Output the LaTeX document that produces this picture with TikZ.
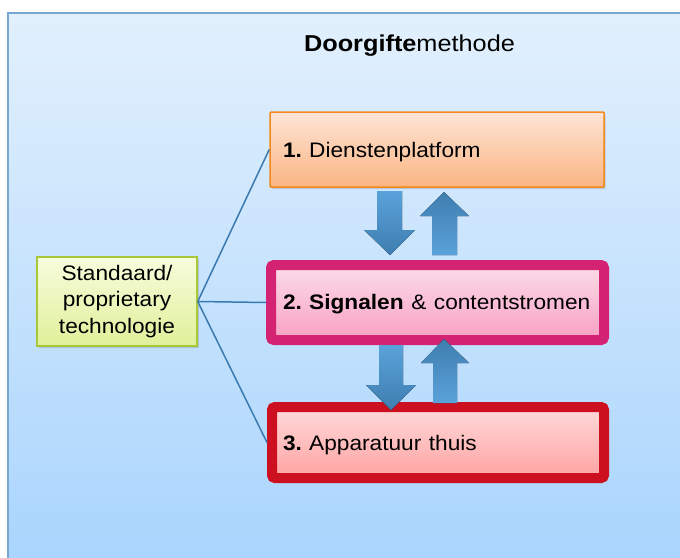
\documentclass[tikz,border=0pt]{standalone}
\usepackage{fontspec}
\setmainfont{Liberation Sans}
\usepackage{graphicx}
\usetikzlibrary{shadows}
\definecolor{bgtop}{HTML}{E2F0FD}
\definecolor{bgbot}{HTML}{A8D4FD}
\definecolor{bgborder}{HTML}{78A8D0}
\definecolor{orborder}{HTML}{F08A1C}
\definecolor{ortop}{HTML}{FDE4D6}
\definecolor{orbot}{HTML}{FBB582}
\definecolor{mgborder}{HTML}{D42372}
\definecolor{mgtop}{HTML}{FCDCE8}
\definecolor{mgbot}{HTML}{F8A0C2}
\definecolor{rdborder}{HTML}{CC1020}
\definecolor{rdtop}{HTML}{FFDADA}
\definecolor{rdbot}{HTML}{FFA2A2}
\definecolor{ygborder}{HTML}{A8C838}
\definecolor{ygtop}{HTML}{F7FCDC}
\definecolor{ygbot}{HTML}{E0F09A}
\definecolor{lnblue}{HTML}{3B7AB0}
\definecolor{arlight}{HTML}{5AA2DA}
\definecolor{ardark}{HTML}{3F7EB0}
\newcommand{\hs}[1]{\scalebox{1.08}[1]{#1}}
\newcommand{\hst}[1]{\scalebox{1.1}[1]{#1}}
\newcommand{\gp}{\hspace{0.32em}}
\begin{document}
\begin{tikzpicture}[x=1pt,y=-1pt,
  boxtext/.style={font=\fontsize{21}{26}\selectfont, align=left, inner ysep=0pt, text height=15pt},
  shadowed/.style={drop shadow={shadow xshift=1.5pt, shadow yshift=-2pt, opacity=0.3}},
  box1/.style={boxtext, shadowed, draw=orborder, line width=1.5pt, top color=ortop, bottom color=orbot,
     minimum height=75pt, inner xsep=13pt, text width=308pt, rounded corners=1pt, text depth=0pt},
  box2/.style={boxtext, shadowed, draw=mgborder, line width=10pt, top color=mgtop, bottom color=mgbot,
     minimum height=75pt, inner xsep=12pt, text width=309pt, rounded corners=3pt, text depth=1pt},
  box3/.style={boxtext, shadowed, draw=rdborder, line width=10pt, top color=rdtop, bottom color=rdbot,
     minimum height=71pt, inner xsep=11pt, text width=310pt, rounded corners=3pt, text depth=-3pt},
  leftbox/.style={font=\fontsize{21}{26.5}\selectfont, align=center, shadowed, draw=ygborder, line width=1.5pt,
     top color=ygtop, bottom color=ygbot, minimum width=160pt, minimum height=89pt, inner sep=0pt},
  conn/.style={draw=lnblue, line width=1.5pt},
  downarrow/.style={top color=arlight, bottom color=ardark, draw=none},
  uparrow/.style={top color=ardark, bottom color=arlight, draw=none}
]
\clip (0,0) rectangle (680,557);
\fill[white] (0,0) rectangle (680,557);
\draw[draw=bgborder, line width=1.2pt, top color=bgtop, bottom color=bgbot] (8,13) rectangle (700,580);

\node[font=\fontsize{23}{28}\selectfont, inner sep=0pt] (title) at (409.5,46) {\hst{\textbf{Doorgifte}methode}};

\node[leftbox] (lb) at (117,301.5) {\hs{Standaard/}\\\hs{proprietary}\\\hs{technologie}};

\node[box1] (b1) at (437,149.5) {\hs{\textbf{1.}\gp Dienstenplatform}};
\node[box2] (b2) at (437.5,302.5) {\hs{\textbf{2.}\gp\textbf{Signalen} \& contentstromen}};
\node[box3] (b3) at (438,442.5) {\hs{\textbf{3.}\gp Apparatuur thuis}};

\draw[conn] (lb.east) -- (b1.west);
\draw[conn] (lb.east) -- (b2.west);
\draw[conn] (lb.east) -- (b3.west);

\fill[downarrow] (377,191) -- (402,191) -- (402,230) -- (415,230) -- (390,255) -- (364,230) -- (377,230) -- cycle;
\fill[uparrow] (444,192) -- (469,216) -- (457,216) -- (457,255) -- (432,255) -- (432,216) -- (420,216) -- cycle;
\fill[downarrow] (379,345) -- (403,345) -- (403,385) -- (416,385) -- (391,410) -- (366,385) -- (379,385) -- cycle;
\fill[uparrow] (444,339) -- (469,363) -- (457,363) -- (457,403) -- (433,403) -- (433,363) -- (421,363) -- cycle;
\end{tikzpicture}
\end{document}
